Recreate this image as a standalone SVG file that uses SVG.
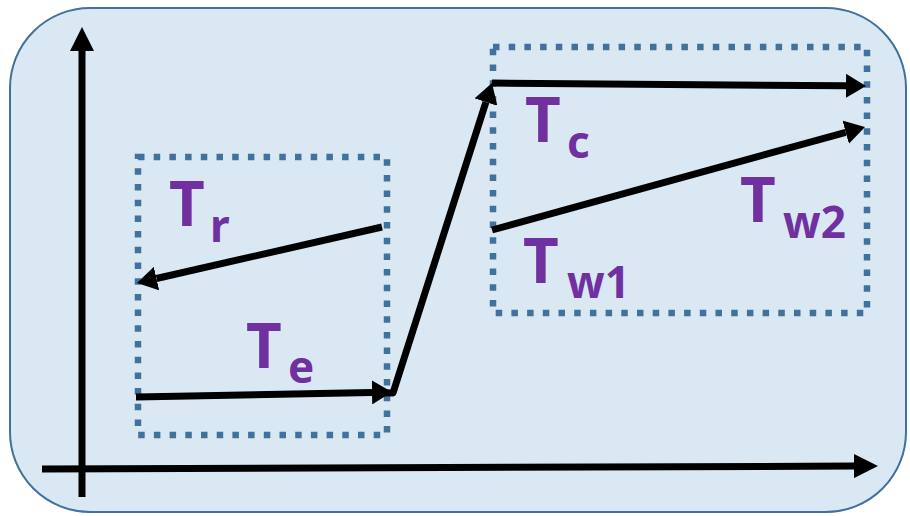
<svg xmlns="http://www.w3.org/2000/svg" width="910" height="516" viewBox="0 0 910 516">
<style>
.bg{fill:#dae8f4;stroke:#41719c;stroke-width:2}
.box{fill:none;stroke:#41719c;stroke-width:6.5;stroke-dasharray:6.5 9.2}
.ln{fill:none;stroke:#000;stroke-width:7;stroke-linejoin:round}
.lbl{font-family:"Comic Sans MS","Noto Sans",sans-serif;font-weight:bold;font-size:62px;fill:#7030a0}
.sub{font-size:44px}
</style>
<defs>
<marker id="ah" viewBox="0 0 20 24" refX="0" refY="12" markerWidth="20" markerHeight="24" markerUnits="userSpaceOnUse" orient="auto">
<path d="M0,0 L20,12 L0,24 z" fill="#000"/>
</marker>
<marker id="ahb" viewBox="0 0 24 24" refX="0" refY="12" markerWidth="24" markerHeight="24" markerUnits="userSpaceOnUse" orient="auto">
<path d="M0,0 L24,12 L0,24 z" fill="#000"/>
</marker>
</defs>
<rect class="bg" x="10" y="8" width="896" height="504" rx="80" ry="80"/>
<g id="box-left"><rect class="box" x="138" y="157" width="249" height="278"/></g>
<g id="box-right"><rect class="box" x="493" y="47" width="374" height="266"/></g>
<g id="connectors">
<line class="ln" x1="82" y1="497" x2="82" y2="51" marker-end="url(#ahb)"/>
<line class="ln" x1="42" y1="469" x2="854" y2="466.1" marker-end="url(#ahb)"/>
<line class="ln" x1="136" y1="397" x2="372" y2="392.4" marker-end="url(#ah)"/>
<polyline class="ln" points="372,392.4 393,393 485.9,102.1" marker-end="url(#ah)"/>
<line class="ln" x1="492" y1="83" x2="846" y2="85.8" marker-end="url(#ah)"/>
<line class="ln" x1="492" y1="230" x2="845.7" y2="132.3" marker-end="url(#ah)"/>
<line class="ln" x1="382" y1="227" x2="156.5" y2="278.5" marker-end="url(#ah)"/>
</g>
<g id="label-Tr"><text class="lbl"><tspan x="169" y="226">T</tspan><tspan class="sub" x="210" y="242">r</tspan></text></g>
<g id="label-Te"><text class="lbl"><tspan x="246" y="368">T</tspan><tspan class="sub" x="288" y="383">e</tspan></text></g>
<g id="label-Tc"><text class="lbl"><tspan x="525" y="142">T</tspan><tspan class="sub" x="567" y="158">c</tspan></text></g>
<g id="label-Tw1"><text class="lbl"><tspan x="523" y="283">T</tspan><tspan class="sub" x="567" y="298">w1</tspan></text></g>
<g id="label-Tw2"><text class="lbl"><tspan x="740" y="222">T</tspan><tspan class="sub" x="783" y="238">w2</tspan></text></g>
</svg>
